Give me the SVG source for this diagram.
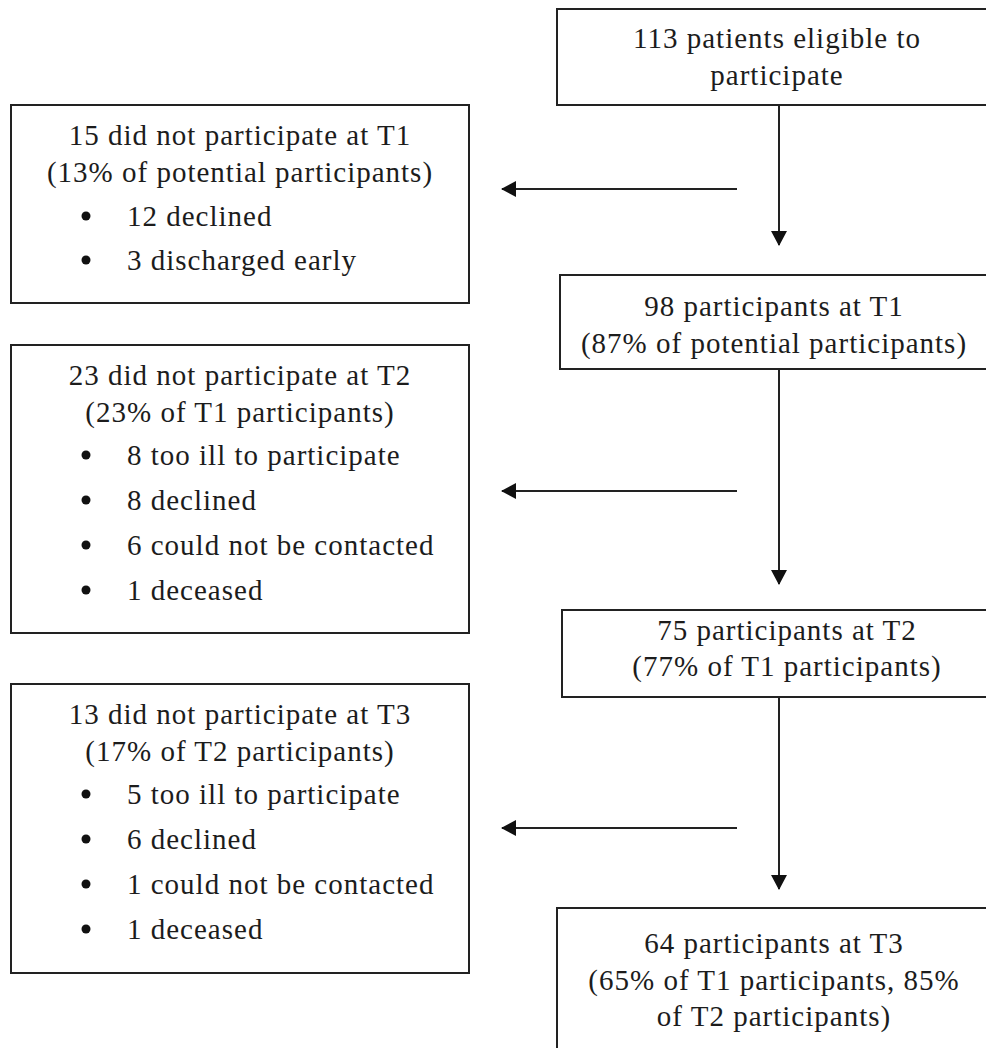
<svg xmlns="http://www.w3.org/2000/svg" width="986" height="1048" viewBox="0 0 986 1048">
<style>
.box{fill:#fff;stroke:#222;stroke-width:2}
.t{font-family:"Liberation Serif","Times New Roman",serif;font-size:29px;letter-spacing:1px;fill:#1c1c1c}
.c{text-anchor:middle}
.line{stroke:#222;stroke-width:2;fill:none}
.dot{fill:#111}
</style>
<defs>
<marker id="ah" markerWidth="16" markerHeight="16" refX="14" refY="8" orient="auto" markerUnits="userSpaceOnUse">
<path d="M0,0 L15,8 L0,16 Z" fill="#111"/>
</marker>
</defs>
<rect width="986" height="1048" fill="#fff"/>

<g id="connectors">
<line class="line" x1="779" y1="105" x2="779" y2="245" marker-end="url(#ah)"/>
<line class="line" x1="779" y1="369" x2="779" y2="584" marker-end="url(#ah)"/>
<line class="line" x1="779" y1="697" x2="779" y2="889" marker-end="url(#ah)"/>
<line class="line" x1="737" y1="189" x2="502" y2="189" marker-end="url(#ah)"/>
<line class="line" x1="737" y1="491" x2="502" y2="491" marker-end="url(#ah)"/>
<line class="line" x1="737" y1="828" x2="502" y2="828" marker-end="url(#ah)"/>
</g>

<g id="eligible">
<rect class="box" x="557" y="9" width="450" height="96"/>
<text class="t c" x="777" y="48">113 patients eligible to</text>
<text class="t c" x="777" y="85">participate</text>
</g>

<g id="t1-participants">
<rect class="box" x="560" y="275" width="450" height="94"/>
<text class="t c" x="774" y="316">98 participants at T1</text>
<text class="t c" x="774" y="353">(87% of potential participants)</text>
</g>

<g id="t2-participants">
<rect class="box" x="562" y="610" width="450" height="87"/>
<text class="t c" x="787" y="640">75 participants at T2</text>
<text class="t c" x="787" y="676">(77% of T1 participants)</text>
</g>

<g id="t3-participants">
<rect class="box" x="557" y="908" width="450" height="160"/>
<text class="t c" x="774" y="953">64 participants at T3</text>
<text class="t c" x="774" y="990">(65% of T1 participants, 85%</text>
<text class="t c" x="774" y="1026">of T2 participants)</text>
</g>

<g id="t1-nonparticipants">
<rect class="box" x="11" y="105" width="458" height="198"/>
<text class="t c" x="240" y="145">15 did not participate at T1</text>
<text class="t c" x="240" y="182">(13% of potential participants)</text>
<circle class="dot" cx="86" cy="216" r="4.5"/>
<text class="t" x="127" y="226">12 declined</text>
<circle class="dot" cx="86" cy="260" r="4.5"/>
<text class="t" x="127" y="270">3 discharged early</text>
</g>

<g id="t2-nonparticipants">
<rect class="box" x="11" y="345" width="458" height="288"/>
<text class="t c" x="240" y="385">23 did not participate at T2</text>
<text class="t c" x="240" y="422">(23% of T1 participants)</text>
<circle class="dot" cx="86" cy="455" r="4.5"/>
<text class="t" x="127" y="465">8 too ill to participate</text>
<circle class="dot" cx="86" cy="500" r="4.5"/>
<text class="t" x="127" y="510">8 declined</text>
<circle class="dot" cx="86" cy="545" r="4.5"/>
<text class="t" x="127" y="555">6 could not be contacted</text>
<circle class="dot" cx="86" cy="590" r="4.5"/>
<text class="t" x="127" y="600">1 deceased</text>
</g>

<g id="t3-nonparticipants">
<rect class="box" x="11" y="684" width="458" height="289"/>
<text class="t c" x="240" y="724">13 did not participate at T3</text>
<text class="t c" x="240" y="761">(17% of T2 participants)</text>
<circle class="dot" cx="86" cy="794" r="4.5"/>
<text class="t" x="127" y="804">5 too ill to participate</text>
<circle class="dot" cx="86" cy="839" r="4.5"/>
<text class="t" x="127" y="849">6 declined</text>
<circle class="dot" cx="86" cy="884" r="4.5"/>
<text class="t" x="127" y="894">1 could not be contacted</text>
<circle class="dot" cx="86" cy="929" r="4.5"/>
<text class="t" x="127" y="939">1 deceased</text>
</g>
</svg>
